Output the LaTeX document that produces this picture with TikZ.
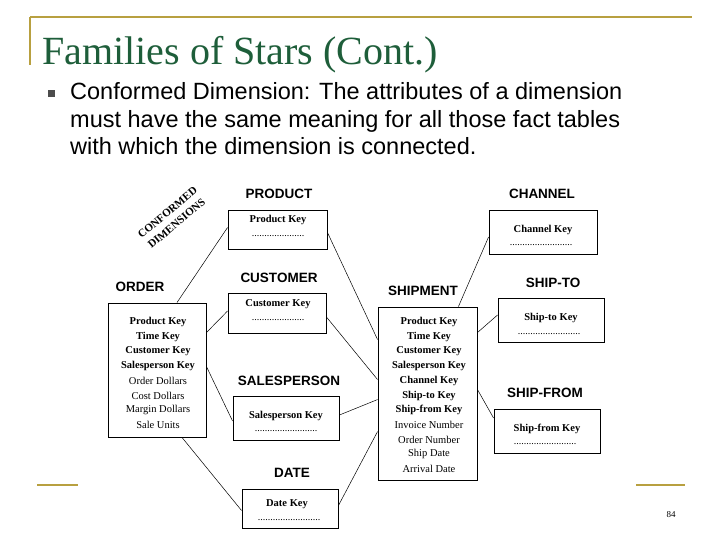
\documentclass[tikz,border=0pt]{standalone}
\usepackage{fontspec}
\setmainfont{Liberation Serif}
\setsansfont{Liberation Sans}
\usetikzlibrary{calc}
\definecolor{gold}{HTML}{B8A040}
\definecolor{titlegreen}{HTML}{1E5E3A}
\tikzset{
  tbl/.style={draw,line width=0.9pt,inner sep=0pt},
  lbl/.style={font=\sffamily\bfseries\fontsize{13.5}{14}\selectfont,inner sep=0pt},
  row/.style={font=\fontsize{10.5}{11}\selectfont,inner sep=0pt},
  krow/.style={font=\bfseries\fontsize{10.5}{11}\selectfont,inner sep=0pt},
  dots/.style={font=\fontsize{10}{10}\selectfont,inner sep=0pt},
  conn/.style={line width=0.5pt},
  gl/.style={gold,line width=2.2pt},
  btxt/.style={anchor=base west,font=\sffamily\fontsize{23.5}{27}\selectfont,inner sep=0pt}
}
\begin{document}
\begin{tikzpicture}[x=1pt,y=-1pt]
\useasboundingbox[fill=white] (0,0) rectangle (720,540);
% frame lines
\draw[gl] (30,17) -- (692,17);
\draw[gl] (30,17) -- (30,65);
\draw[gl] (37,485) -- (78,485);
\draw[gl] (636,485) -- (685,485);
% title
\node[anchor=base west,text=titlegreen,font=\fontsize{40}{44}\selectfont,inner sep=0pt] (title) at (42,65) {Families of Stars (Cont.)};
\node[fill=black!70,minimum size=7pt,inner sep=0pt] (bul) at (51,94) {};
\node[btxt] (b1) at (70,100) {Conformed Dimension: The attributes of a dimension};
\node[btxt] (b2) at (70,127.5) {must have the same meaning for all those fact tables};
\node[btxt] (b3) at (70,155) {with which the dimension is connected.};
% boxes
\node[tbl,minimum width=99pt,minimum height=39pt] (prod) at (277.5,229.5) {};
\node[tbl,minimum width=98pt,minimum height=40pt] (cust) at (277,313) {};
\node[tbl,minimum width=106pt,minimum height=44pt] (sales) at (286,418) {};
\node[tbl,minimum width=96pt,minimum height=39pt] (date) at (290,508.5) {};
\node[tbl,minimum width=98pt,minimum height=134pt] (ord) at (157,370) {};
\node[tbl,minimum width=99pt,minimum height=173pt] (ship) at (427.5,393.5) {};
\node[tbl,minimum width=108pt,minimum height=44pt] (chan) at (543,232) {};
\node[tbl,minimum width=106pt,minimum height=44pt] (shto) at (551,320) {};
\node[tbl,minimum width=106pt,minimum height=44pt] (shfr) at (547,431) {};
% labels
\node[lbl] (lprod) at (279,194) {PRODUCT};
\node[lbl] (lcust) at (279,278) {CUSTOMER};
\node[lbl] (lsales) at (289,381) {SALESPERSON};
\node[lbl] (ldate) at (292,473) {DATE};
\node[lbl] (lord) at (140,287) {ORDER};
\node[lbl] (lship) at (423,291) {SHIPMENT};
\node[lbl] (lchan) at (542,194) {CHANNEL};
\node[lbl] (lshto) at (553,283) {SHIP-TO};
\node[lbl] (lshfr) at (545,393) {SHIP-FROM};
\node[font=\bfseries\fontsize{11}{14}\selectfont,align=center,rotate=40,inner sep=0pt] (conf) at (172,218) {CONFORMED\\DIMENSIONS};
% box contents
\node[krow] (t1) at (278,220) {Product Key}; \node[dots] (d1) at (278,236) {.....................};
\node[krow] (t2) at (278,304) {Customer Key}; \node[dots] (d2) at (278,320) {.....................};
\node[krow] (t3) at (286,416) {Salesperson Key}; \node[dots] (d3) at (286,431) {.........................};
\node[krow] (t4) at (287,504) {Date Key}; \node[dots] (d4) at (289,520) {.........................};
\node[krow] (t5) at (543,230) {Channel Key}; \node[dots] (d5) at (541,245) {.........................};
\node[krow] (t6) at (551,318) {Ship-to Key}; \node[dots] (d6) at (549,334) {.........................};
\node[krow] (t7) at (547,429) {Ship-from Key}; \node[dots] (d7) at (545,444) {.........................};
\foreach \t/\s [count=\i from 0] in {Product Key/krow,Time Key/krow,Customer Key/krow,Salesperson Key/krow,Order Dollars/row,Cost Dollars/row,Margin Dollars/row,Sale Units/row}
  \node[\s] (o\i) at (158,{322+14.7*\i}) {\t};
\foreach \t/\s [count=\i from 0] in {Product Key/krow,Time Key/krow,Customer Key/krow,Salesperson Key/krow,Channel Key/krow,Ship-to Key/krow,Ship-from Key/krow,Invoice Number/row,Order Number/row,Ship Date/row,Arrival Date/row}
  \node[\s] (s\i) at (429,{322+14.7*\i}) {\t};
% connectors
\draw[conn] ([xshift=20pt]ord.north) -- ([yshift=2pt]prod.west);
\draw[conn] ([yshift=-30pt]ord.north east) -- ([yshift=2pt]cust.west);
\draw[conn] ([yshift=-64pt]ord.north east) -- ([yshift=-3pt]sales.west);
\draw[conn] ([xshift=25pt]ord.south) -- ([yshift=-2pt]date.west);
\draw[conn] ([yshift=-3pt]prod.east) -- ([yshift=-33pt]ship.north west);
\draw[conn] ([yshift=-4pt]cust.east) -- ([yshift=-73pt]ship.north west);
\draw[conn] ([yshift=3pt]sales.east) -- ([yshift=-93pt]ship.north west);
\draw[conn] ([yshift=3pt]date.east) -- ([yshift=-125pt]ship.north west);
\draw[conn] ([xshift=-19pt]ship.north east) -- ([yshift=-5pt]chan.west);
\draw[conn] ([yshift=-26pt]ship.north east) -- ([yshift=5pt]shto.west);
\draw[conn] ([yshift=-83pt]ship.north east) -- ([yshift=13pt]shfr.west);
% page number
\node[font=\fontsize{9}{10}\selectfont,inner sep=0pt] (pg) at (671,515) {84};
\end{tikzpicture}
\end{document}
